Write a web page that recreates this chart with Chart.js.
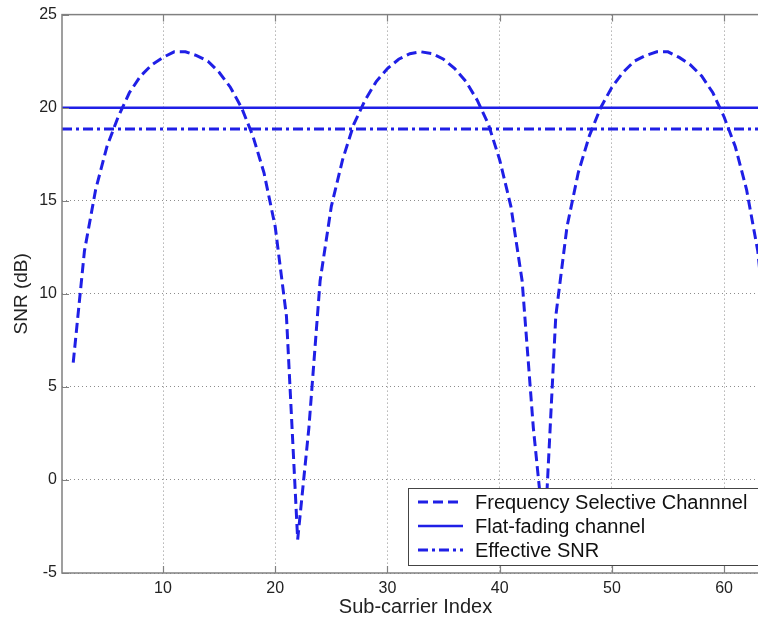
<!DOCTYPE html>
<html>
<head>
<meta charset="utf-8">
<script src="https://cdn.jsdelivr.net/npm/chart.js@4.4.0/dist/chart.umd.min.js"></script>
<style>
  html, body { margin: 0; padding: 0; background: #fff; overflow: hidden; }
  #wrap { width: 780px; height: 619px; }
</style>
</head>
<body>
<div id="wrap"><canvas id="snrChart"></canvas></div>
<script>
// sub-carrier index and SNR (dB)
const subcarrierIndex = [2, 3, 4, 5, 6, 7, 8, 9, 10, 11,
  12, 13, 14, 15, 16, 17, 18, 19, 20, 21,
  22, 23, 24, 25, 26, 27, 28, 29, 30, 31,
  32, 33, 34, 35, 36, 37, 38, 39, 40, 41,
  42, 43, 44, 45, 46, 47, 48, 49, 50, 51,
  52, 53, 54, 55, 56, 57, 58, 59, 60, 61,
  62, 63, 64];
const freqSelectiveSnr = [6.3, 12.3, 15.6, 17.9, 19.5, 20.8, 21.7, 22.3, 22.7, 23.0,
  23.0, 22.8, 22.5, 21.9, 21.1, 20.0, 18.5, 16.5, 13.6, 8.8,
  -3.2, 2.8, 10.7, 14.7, 17.2, 19.1, 20.4, 21.4, 22.1, 22.6,
  22.9, 23.0, 22.9, 22.6, 22.1, 21.4, 20.4, 19.1, 17.2, 14.7,
  10.7, 2.8, -3.2, 8.8, 13.6, 16.5, 18.5, 20.0, 21.1, 21.9,
  22.5, 22.8, 23.0, 23.0, 22.7, 22.3, 21.7, 20.8, 19.5, 17.9,
  15.6, 12.3, 6.3];
const flatX = [1, 64];
const flatSnr = [20, 20];
const effectiveSnr = [18.85, 18.85];
const xTicks = [10, 20, 30, 40, 50, 60];
const yTicks = [-5, 0, 5, 10, 15, 20, 25];
const seriesNames = ['Frequency Selective Channnel', 'Flat-fading channel', 'Effective SNR'];

const blue = '#1f1fe6';
const fontFamily = '"Liberation Sans", Arial, Helvetica, sans-serif';

function toPoints(xs, ys) {
  return xs.map((x, i) => ({ x, y: ys[i] }));
}

// matlab style box with inward tick marks
const axesFrame = {
  id: 'axesFrame',
  afterDatasetsDraw(chart) {
    const { ctx, chartArea: a, scales } = chart;
    ctx.save();
    ctx.strokeStyle = '#808080';
    ctx.lineWidth = 1.5;
    ctx.strokeRect(a.left, a.top, a.right - a.left, a.bottom - a.top);
    ctx.beginPath();
    xTicks.forEach(v => {
      const px = Math.round(scales.x.getPixelForValue(v)) + 0.5;
      ctx.moveTo(px, a.bottom); ctx.lineTo(px, a.bottom - 7);
      ctx.moveTo(px, a.top); ctx.lineTo(px, a.top + 7);
    });
    yTicks.forEach(v => {
      const py = Math.round(scales.y.getPixelForValue(v)) + 0.5;
      ctx.moveTo(a.left, py); ctx.lineTo(a.left + 7, py);
      ctx.moveTo(a.right, py); ctx.lineTo(a.right - 7, py);
    });
    ctx.lineWidth = 1.2;
    ctx.stroke();
    ctx.restore();
  }
};

const boxLegend = {
  id: 'boxLegend',
  afterDraw(chart) {
    const { ctx, chartArea: a } = chart;
    const w = 353, h = 77;
    const x0 = a.right - 8 - w, y0 = a.bottom - 8 - h;
    ctx.save();
    ctx.fillStyle = '#fff';
    ctx.fillRect(x0, y0, w, h);
    ctx.strokeStyle = '#444';
    ctx.lineWidth = 1;
    ctx.strokeRect(x0 + 0.5, y0 + 0.5, w, h);
    chart.data.datasets.forEach((ds, i) => {
      const cy = y0 + 14 + i * 24;
      ctx.setLineDash(ds.borderDash || []);
      ctx.strokeStyle = ds.borderColor;
      ctx.lineWidth = ds.borderWidth;
      ctx.beginPath();
      ctx.moveTo(x0 + 10, cy);
      ctx.lineTo(x0 + 55, cy);
      ctx.stroke();
      ctx.setLineDash([]);
      ctx.fillStyle = '#111';
      ctx.font = '20px ' + fontFamily;
      ctx.textBaseline = 'middle';
      ctx.fillText(ds.label, x0 + 67, cy + 1);
    });
    ctx.restore();
  }
};

const ctx = document.getElementById('snrChart').getContext('2d');
const chart = new Chart(ctx, {
  type: 'line',
  data: {
    datasets: [{
      label: seriesNames[0],
      data: toPoints(subcarrierIndex, freqSelectiveSnr),
      borderColor: blue,
      borderWidth: 3,
      borderDash: [10, 5],
      pointRadius: 0,
      tension: 0
    }, {
      label: seriesNames[1],
      data: toPoints(flatX, flatSnr),
      borderColor: blue,
      borderWidth: 2.5,
      borderDash: [],
      pointRadius: 0
    }, {
      label: seriesNames[2],
      data: toPoints(flatX, effectiveSnr),
      borderColor: blue,
      borderWidth: 3,
      borderDash: [10, 4, 3, 4],
      pointRadius: 0
    }]
  },
  options: {
    responsive: true,
    maintainAspectRatio: false,
    animation: false,
    layout: { padding: { top: 14, right: 11, bottom: 0, left: 0 } },
    plugins: {
      legend: { display: false },
      tooltip: { enabled: false }
    },
    scales: {
      x: {
        type: 'linear',
        min: 1,
        max: 64,
        afterBuildTicks: s => { s.ticks = xTicks.map(v => ({ value: v })); },
        afterFit: s => { s.height = 46; },
        grid: { color: 'rgba(0,0,0,0.45)', lineWidth: 1, drawTicks: false },
        border: { display: false, dash: [1, 3] },
        ticks: { padding: 6, color: '#222', font: { family: fontFamily, size: 16 } },
        title: {
          display: true,
          text: 'Sub-carrier Index',
          color: '#222',
          padding: { top: 0, bottom: 0 },
          font: { family: fontFamily, size: 20 }
        }
      },
      y: {
        min: -5,
        max: 25,
        afterBuildTicks: s => { s.ticks = yTicks.map(v => ({ value: v })); },
        afterFit: s => { s.width = 62; },
        grid: { color: 'rgba(0,0,0,0.45)', lineWidth: 1, drawTicks: false },
        border: { display: false, dash: [1, 3] },
        ticks: { padding: 5, color: '#222', font: { family: fontFamily, size: 16 } },
        title: {
          display: true,
          text: 'SNR (dB)',
          color: '#222',
          padding: { top: 10, bottom: 0 },
          font: { family: fontFamily, size: 19 }
        }
      }
    }
  },
  plugins: [axesFrame, boxLegend]
});
</script>
</body>
</html>
